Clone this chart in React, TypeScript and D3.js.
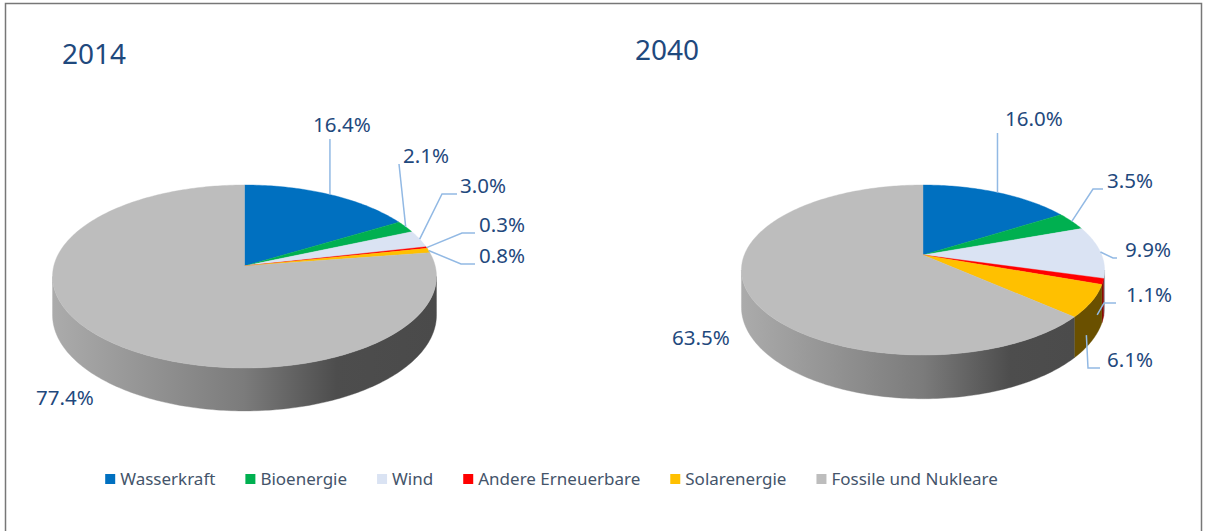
import * as d3 from 'd3';

// data
const categories = ['Wasserkraft', 'Bioenergie', 'Wind', 'Andere Erneuerbare', 'Solarenergie', 'Fossile und Nukleare'];
const values2014 = [16.4, 2.1, 3.0, 0.3, 0.8, 77.4];
const values2040 = [16.0, 3.5, 9.9, 1.1, 6.1, 63.5];
const years = ['2014', '2040'];

const topColors = ['#0070c0', '#00b050', '#dae3f3', '#ff0000', '#ffc000', '#bdbdbd'];
const wallColors = ['#003d6a', '#006030', '#8a9099', '#8c0000', '#6a5000', 'gradient'];
const labelColor = '#1f497d';
const leaderColor = '#92b9e4';
const legendText = '#44546a';

type Geo = { cx: number; cy: number; a: number; b: number; p: number; depth: number };
type LabelPos = { x: number; y: number; mode: 'below' | 'side' | 'none'; h?: number; gap?: number };

// layout of the two pies (perspective-projected ellipse)
const geos: Geo[] = [
  { cx: 244.5, cy: 266, a: 190.7, b: 90.3, p: 0.1147, depth: 38 },
  { cx: 923, cy: 255, a: 178.7, b: 82.35, p: 0.1765, depth: 36 },
];
const titlePos = [
  { x: 62, y: 64 },
  { x: 635, y: 60 },
];
const labelPos: LabelPos[][] = [
  [
    { x: 313, y: 132, mode: 'below' },
    { x: 403, y: 163, mode: 'side', h: 0, gap: 4 },
    { x: 460, y: 193, mode: 'side', h: 15, gap: 3 },
    { x: 479, y: 232, mode: 'side', h: 13, gap: 4 },
    { x: 479, y: 263, mode: 'side', h: 14, gap: 4 },
    { x: 36, y: 405, mode: 'none' },
  ],
  [
    { x: 1005, y: 126, mode: 'below' },
    { x: 1107, y: 188, mode: 'side', h: 10, gap: 4 },
    { x: 1125, y: 257, mode: 'side', h: 4, gap: 8 },
    { x: 1126, y: 302, mode: 'side', h: 12, gap: 10 },
    { x: 1107, y: 367, mode: 'side', h: 12, gap: 7 },
    { x: 672, y: 345, mode: 'none' },
  ],
];

function project(g: Geo, theta: number, r = 1, down = 0): [number, number] {
  const u = Math.sin(theta) * r;
  const v = -Math.cos(theta) * r;
  const s = 1 / (1 - g.p * v);
  return [g.cx + g.a * u * s, g.cy + g.b * v * s + down * s];
}

function arcPoints(g: Geo, a0: number, a1: number, down = 0) {
  const n = Math.max(2, Math.ceil(((a1 - a0) * 180) / Math.PI));
  return d3.range(n + 1).map((i) => project(g, a0 + ((a1 - a0) * i) / n, 1, down));
}

const lineGen = d3.line();

function measure(text: string, font: string) {
  const ctx = document.createElement('canvas').getContext('2d');
  if (!ctx) return text.length * 8;
  ctx.font = font;
  return ctx.measureText(text).width;
}

function Pie({ idx, values }: { idx: number; values: number[] }) {
  const g = geos[idx];
  const arcs = d3
    .pie<number>()
    .sort(null)
    .value((d) => d)(values);
  const thR = Math.PI / 2 + Math.asin(g.p);
  const thL = 2 * Math.PI - thR;
  const rx = g.a / Math.sqrt(1 - g.p * g.p);
  const gradId = 'wallGrad' + idx;

  return (
    <g>
      <defs>
        <linearGradient id={gradId} gradientUnits="userSpaceOnUse" x1={g.cx - rx} x2={g.cx + rx} y1={0} y2={0}>
          <stop offset="0" stopColor="#ababab" />
          <stop offset="0.5" stopColor="#7b7b7b" />
          <stop offset="0.74" stopColor="#4d4d4d" />
          <stop offset="1" stopColor="#4a4a4a" />
        </linearGradient>
      </defs>
      {arcs.map((d, i) => {
        const lo = Math.max(d.startAngle, thR);
        const hi = Math.min(d.endAngle, thL);
        if (lo >= hi) return null;
        const pts = [...arcPoints(g, lo, hi), ...arcPoints(g, lo, hi, g.depth).reverse()];
        const fill = wallColors[i] === 'gradient' ? `url(#${gradId})` : wallColors[i];
        return <path key={'w' + i} d={lineGen(pts) + 'Z'} fill={fill} stroke={fill} strokeWidth={0.4} />;
      })}
      {arcs.map((d, i) => {
        const pts: [number, number][] = [[g.cx, g.cy], ...arcPoints(g, d.startAngle, d.endAngle)];
        return <path key={'t' + i} d={lineGen(pts) + 'Z'} fill={topColors[i]} stroke={topColors[i]} strokeWidth={0.4} />;
      })}
      {arcs.map((d, i) => {
        const lp = labelPos[idx][i];
        const mid = (d.startAngle + d.endAngle) / 2;
        const front = -Math.cos(mid) > 0.15;
        const anchor = project(g, mid, front ? 0.97 : 1, front ? g.depth * 0.9 : 0);
        let path: [number, number][] = [];
        if (lp.mode === 'below') {
          path = [anchor, [anchor[0], lp.y + 7]];
        } else if (lp.mode === 'side') {
          const ex = lp.x - (lp.gap ?? 4);
          const ey = lp.y + 1;
          path = [anchor, [ex - (lp.h ?? 0), ey], [ex, ey]];
        }
        return (
          <g key={'l' + i}>
            {path.length > 0 && (
              <path d={lineGen(path) ?? ''} fill="none" stroke={leaderColor} strokeWidth={1.5} />
            )}
            <text x={lp.x} y={lp.y} fill={labelColor} fontSize={20.5} fontFamily="'Noto Sans', sans-serif">
              {d.data.toFixed(1) + '%'}
            </text>
          </g>
        );
      })}
      <text x={titlePos[idx].x} y={titlePos[idx].y} fill={labelColor} fontSize={28} fontFamily="'Noto Sans', sans-serif">
        {years[idx]}
      </text>
    </g>
  );
}

function Legend() {
  const font = "17px 'Noto Sans'";
  const widths = categories.map((c) => measure(c, font));
  const total = d3.sum(widths) + categories.length * 15 + (categories.length - 1) * 30;
  let x = 551.5 - total / 2;
  const items = categories.map((c, i) => {
    const item = { c, i, x };
    x += 15 + widths[i] + 30;
    return item;
  });
  return (
    <g>
      {items.map((it) => (
        <g key={it.c}>
          <rect x={it.x} y={474} width={10} height={10} fill={topColors[it.i]} />
          <text x={it.x + 15} y={485} fill={legendText} fontSize={17} fontFamily="'Noto Sans', sans-serif">
            {it.c}
          </text>
        </g>
      ))}
    </g>
  );
}

export default function App() {
  return (
    <svg width={1205} height={531} style={{ position: 'absolute', left: 0, top: 0, background: '#fff' }}>
      <rect x={0} y={0} width={1205} height={531} fill="#fff" />
      <rect x={5.5} y={3.5} width={1196} height={560} fill="none" stroke="#777" strokeWidth={1.5} />
      <Pie idx={0} values={values2014} />
      <Pie idx={1} values={values2040} />
      <Legend />
    </svg>
  );
}
